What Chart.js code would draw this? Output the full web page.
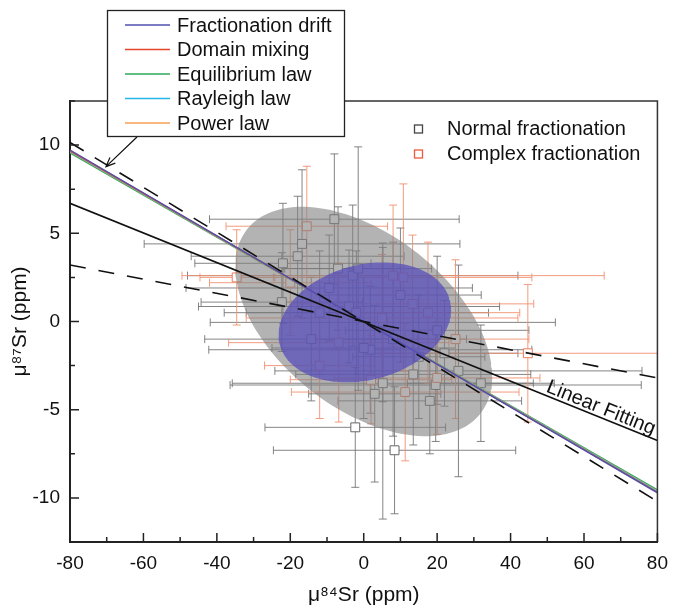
<!DOCTYPE html>
<html>
<head>
<meta charset="utf-8">
<script src="https://cdn.jsdelivr.net/npm/chart.js@4.4.1/dist/chart.umd.min.js"></script>
<style>
  html, body { margin: 0; padding: 0; background: #fff; }
  #wrap { width: 678px; height: 610px; }
</style>
</head>
<body>
<div id="wrap"><canvas id="grafico"></canvas></div>
<script>
// tick values
const xTicks = [-80, -60, -40, -20, 0, 20, 40, 60, 80];
const yTicks = [-10, -5, 0, 5, 10];

// Normal fractionation: centre and errors
const normalX    = [-8, -16.8, -18, -22, -9.4, -22.3, -2.3, 8.4, 13.5, 5.2, 25.8, 19.6, 31.9, -14.3, 5.2, 1.8, -3, -4, -2, 3, 8, 15, 10, 20, -12, 0, 18, -7, 22, -1.5];
const normalY    = [5.8, 4.4, 3.7, 3.3, 1.9, 1.1, -6.0, -7.3, -3.0, -3.5, -2.8, -3.6, -3.5, -1.0, -0.05, -1.6, 2.6, 0.85, 0.5, -4.1, -1.0, -2.0, 1.5, -0.5, 0.5, -1.5, -4.5, 3.0, -1.8, 3.0];
const normalXErr = [34, 43, 29, 24, 39, 22, 24.6, 33, 32, 41, 50, 56, 20, 29, 47, 44, 45, 41, 36, 18, 20, 18, 22, 25, 20, 25, 25, 15, 20, 20];
const normalYErr = [3.7, 4.2, 3.4, 3.4, 3.0, 2.8, 3.4, 3.6, 4.0, 7.7, 6.0, 3.2, 3.3, 3.5, 4.5, 3.6, 4.0, 3.2, 3.5, 5.0, 5.5, 3.5, 3.8, 4.2, 3.5, 4.0, 3.0, 3.5, 3.0, 6.9];

// Complex fractionation
const complexX    = [44.7, 8, -34.6, -15.5, 10.8, 13.3, 17.5, -6.8, 11.3, -20, -12, 2, 20, 5, 25];
const complexY    = [-1.8, 2.6, 2.5, 5.4, 2.5, 1.0, 0.5, -1.2, -4.0, 2.2, -2.5, -3.3, -3.2, 0.2, -1.0];
const complexXErr = [40, 57.5, 10, 22, 35, 33, 25, 30, 31, 22, 15, 22, 28, 37, 20];
const complexYErr = [3.9, 4.0, 2.7, 3.4, 5.3, 3.9, 4.0, 4.5, 3.9, 3.0, 3.0, 2.5, 3.2, 3.6, 4.5];

// lines, given by their ends at x = -80 and x = 80
const lineX = [-80, 80];
const driftY = [9.72, -9.72];
const mixingY = [9.69, -9.68];
const equilibriumY = [9.56, -9.55];
const rayleighY = [9.66, -9.64];
const powerY = [9.63, -9.61];
const fitY = [6.7, -6.75];
const dashSteepY = [10.15, -10.2];
const dashFlatY = [3.2, -3.2];

// ellipses (centre, half widths, correlation)
const grayEllipse = { cx: 0, cy: 0, sx: 35, sy: 6.5, rho: -0.48 };
const blueEllipse = { cx: 0.3, cy: -0.05, sx: 23.5, sy: 3.4, rho: 0.21 };

const FONT = "'Liberation Sans', Arial, sans-serif";

function linePoints(ys) {
    return lineX.map((x, i) => ({ x: x, y: ys[i] }));
}

function ellipsePoints(e) {
    const pts = [];
    const k = Math.sqrt(1 - e.rho * e.rho);
    for (let i = 0; i <= 144; i++) {
        const t = i / 144 * 2 * Math.PI;
        pts.push({
            x: e.cx + e.sx * Math.cos(t),
            y: e.cy + e.sy * (e.rho * Math.cos(t) + k * Math.sin(t))
        });
    }
    return pts;
}

function drawBars(ctx, sx, sy, xs, ys, xe, ye, color) {
    ctx.strokeStyle = color;
    ctx.lineWidth = 1;
    const cap = 4;
    for (let i = 0; i < xs.length; i++) {
        const px = sx.getPixelForValue(xs[i]);
        const py = sy.getPixelForValue(ys[i]);
        const x0 = sx.getPixelForValue(xs[i] - xe[i]);
        const x1 = sx.getPixelForValue(xs[i] + xe[i]);
        const y0 = sy.getPixelForValue(ys[i] - ye[i]);
        const y1 = sy.getPixelForValue(ys[i] + ye[i]);
        ctx.beginPath();
        ctx.moveTo(x0, py); ctx.lineTo(x1, py);
        ctx.moveTo(x0, py - cap); ctx.lineTo(x0, py + cap);
        ctx.moveTo(x1, py - cap); ctx.lineTo(x1, py + cap);
        ctx.moveTo(px, y0); ctx.lineTo(px, y1);
        ctx.moveTo(px - cap, y0); ctx.lineTo(px + cap, y0);
        ctx.moveTo(px - cap, y1); ctx.lineTo(px + cap, y1);
        ctx.stroke();
    }
}

// error bars under everything
const errorBars = {
    id: 'errorBars',
    beforeDatasetsDraw(chart) {
        const { ctx, chartArea: a, scales } = chart;
        ctx.save();
        ctx.beginPath();
        ctx.rect(a.left, a.top, a.right - a.left, a.bottom - a.top);
        ctx.clip();
        drawBars(ctx, scales.x, scales.y, normalX, normalY, normalXErr, normalYErr, 'rgba(110,110,110,0.85)');
        drawBars(ctx, scales.x, scales.y, complexX, complexY, complexXErr, complexYErr, 'rgba(242,145,112,0.9)');
        ctx.restore();
    }
};

// frame, inward ticks, legends and annotations
const decorations = {
    id: 'decorations',
    afterDraw(chart) {
        const { ctx, chartArea: a, scales: { x, y } } = chart;
        ctx.save();

        // top and right frame
        ctx.strokeStyle = '#333';
        ctx.lineWidth = 1.5;
        ctx.beginPath();
        ctx.moveTo(a.left, a.top); ctx.lineTo(a.right, a.top); ctx.lineTo(a.right, a.bottom);
        ctx.stroke();

        // inward ticks
        ctx.strokeStyle = '#222';
        ctx.lineWidth = 1.5;
        ctx.beginPath();
        for (let v = -80; v <= 80; v += 10) {
            const px = x.getPixelForValue(v);
            const len = v % 20 === 0 ? 9 : 5;
            ctx.moveTo(px, a.bottom); ctx.lineTo(px, a.bottom - len);
        }
        for (let v = -12.5; v <= 12.5; v += 2.5) {
            const py = y.getPixelForValue(v);
            const len = Math.abs(v % 5) < 0.01 ? 9 : 5;
            ctx.moveTo(a.left, py); ctx.lineTo(a.left + len, py);
        }
        ctx.stroke();

        // "Linear Fitting" label along the fitted line
        const fx0 = x.getPixelForValue(lineX[0]), fy0 = y.getPixelForValue(fitY[0]);
        const fx1 = x.getPixelForValue(lineX[1]), fy1 = y.getPixelForValue(fitY[1]);
        const ang = Math.atan2(fy1 - fy0, fx1 - fx0);
        const lx = x.getPixelForValue(63.7);
        const ly = fy0 + (fy1 - fy0) * (lx - fx0) / (fx1 - fx0);
        ctx.translate(lx + 9 * Math.sin(ang), ly - 9 * Math.cos(ang));
        ctx.rotate(ang);
        ctx.fillStyle = '#111';
        ctx.font = '20px ' + FONT;
        ctx.textAlign = 'center';
        ctx.textBaseline = 'middle';
        ctx.fillText('Linear Fitting', 0, 0);
        ctx.setTransform(1, 0, 0, 1, 0, 0);

        // arrow from the legend box to the model lines
        const tipX = x.getPixelForValue(-70.2), tipY = y.getPixelForValue(8.78);
        const sx = 137, sy = 137;
        const aa = Math.atan2(tipY - sy, tipX - sx);
        ctx.strokeStyle = '#111';
        ctx.lineWidth = 1.2;
        ctx.beginPath();
        ctx.moveTo(sx, sy); ctx.lineTo(tipX, tipY);
        ctx.moveTo(tipX - 10 * Math.cos(aa - 0.4), tipY - 10 * Math.sin(aa - 0.4));
        ctx.lineTo(tipX, tipY);
        ctx.lineTo(tipX - 10 * Math.cos(aa + 0.4), tipY - 10 * Math.sin(aa + 0.4));
        ctx.stroke();

        // model legend box
        ctx.fillStyle = '#fff';
        ctx.fillRect(107, 10, 238, 127);
        ctx.strokeStyle = '#222';
        ctx.lineWidth = 1.3;
        ctx.strokeRect(107.5, 10.5, 237, 126);
        const items = chart.data.datasets.filter(d => d.legendRow !== undefined)
            .sort((p, q) => p.legendRow - q.legendRow);
        ctx.font = '20px ' + FONT;
        ctx.textAlign = 'left';
        ctx.textBaseline = 'middle';
        items.forEach((d, i) => {
            const ry = 25 + i * 24.5;
            ctx.strokeStyle = d.borderColor;
            ctx.lineWidth = 1.6;
            ctx.beginPath();
            ctx.moveTo(125, ry); ctx.lineTo(170, ry);
            ctx.stroke();
            ctx.fillStyle = '#111';
            ctx.fillText(d.label, 177, ry + 1);
        });

        // marker legend
        [['Normal fractionation', '#444', 129], ['Complex fractionation', '#ee5a3a', 154]].forEach(r => {
            ctx.strokeStyle = r[1];
            ctx.lineWidth = 1.3;
            ctx.strokeRect(414.5, r[2] - 4, 8, 8);
            ctx.fillStyle = '#111';
            ctx.fillText(r[0], 447, r[2]);
        });

        ctx.restore();
    }
};

function lineSet(label, ys, color, order, row, dash, width) {
    return {
        type: 'line',
        label: label,
        data: linePoints(ys),
        borderColor: color,
        borderWidth: width || 1.4,
        borderDash: dash || [],
        pointRadius: 0,
        fill: false,
        order: order,
        legendRow: row
    };
}

new Chart(document.getElementById('grafico'), {
    type: 'scatter',
    data: {
        datasets: [
            lineSet('Linear Fitting', fitY, '#111', 1, undefined, [], 1.6),
            lineSet('Upper band', dashSteepY, '#111', 1, undefined, [16, 13], 1.6),
            lineSet('Lower band', dashFlatY, '#111', 1, undefined, [16, 13], 1.6),
            {
                type: 'line',
                label: 'Blue ellipse',
                data: ellipsePoints(blueEllipse),
                borderWidth: 0,
                pointRadius: 0,
                backgroundColor: 'rgba(88,78,186,0.74)',
                fill: 'shape',
                order: 2
            },
            lineSet('Fractionation drift', driftY, '#5050b0', 3, 0),
            lineSet('Domain mixing', mixingY, '#e5452a', 4, 1),
            lineSet('Rayleigh law', rayleighY, '#27b4e6', 5, 3),
            lineSet('Power law', powerY, '#f4a055', 6, 4),
            lineSet('Equilibrium law', equilibriumY, '#2ea85a', 7, 2),
            {
                type: 'line',
                label: 'Gray ellipse',
                data: ellipsePoints(grayEllipse),
                borderWidth: 0,
                pointRadius: 0,
                backgroundColor: 'rgba(128,128,128,0.6)',
                fill: 'shape',
                order: 8
            },
            {
                label: 'Complex fractionation',
                data: complexX.map((v, i) => ({ x: v, y: complexY[i] })),
                pointStyle: 'rect',
                pointRadius: 6.3,
                borderWidth: 1,
                borderColor: '#ee7a5a',
                backgroundColor: '#fff',
                order: 9
            },
            {
                label: 'Normal fractionation',
                data: normalX.map((v, i) => ({ x: v, y: normalY[i] })),
                pointStyle: 'rect',
                pointRadius: 6.3,
                borderWidth: 1,
                borderColor: '#666',
                backgroundColor: '#fff',
                order: 10
            }
        ]
    },
    options: {
        responsive: true,
        maintainAspectRatio: false,
        animation: false,
        layout: { padding: { top: 101, right: 9, left: 0, bottom: 0 } },
        plugins: {
            legend: { display: false },
            tooltip: { enabled: false }
        },
        scales: {
            x: {
                type: 'linear',
                min: -80,
                max: 80,
                afterBuildTicks: s => { s.ticks = xTicks.map(v => ({ value: v })); },
                afterFit: s => { s.height = 68; },
                grid: { display: false, drawTicks: false },
                border: { display: true, color: '#222', width: 2 },
                ticks: { color: '#111', font: { family: FONT, size: 19 }, padding: 10, maxRotation: 0 },
                title: {
                    display: true,
                    text: 'μ⁸⁴Sr (ppm)',
                    color: '#111',
                    font: { family: FONT, size: 21 },
                    padding: { top: 0, bottom: 2 }
                }
            },
            y: {
                type: 'linear',
                min: -12.5,
                max: 12.5,
                afterBuildTicks: s => { s.ticks = yTicks.map(v => ({ value: v })); },
                afterFit: s => { s.width = 70; },
                grid: { display: false, drawTicks: false },
                border: { display: true, color: '#222', width: 2 },
                ticks: { color: '#111', font: { family: FONT, size: 19 }, padding: 10 },
                title: {
                    display: true,
                    text: 'μ⁸⁷Sr (ppm)',
                    color: '#111',
                    font: { family: FONT, size: 21 },
                    padding: { top: 8, bottom: 0 }
                }
            }
        }
    },
    plugins: [errorBars, decorations]
});
</script>
</body>
</html>
